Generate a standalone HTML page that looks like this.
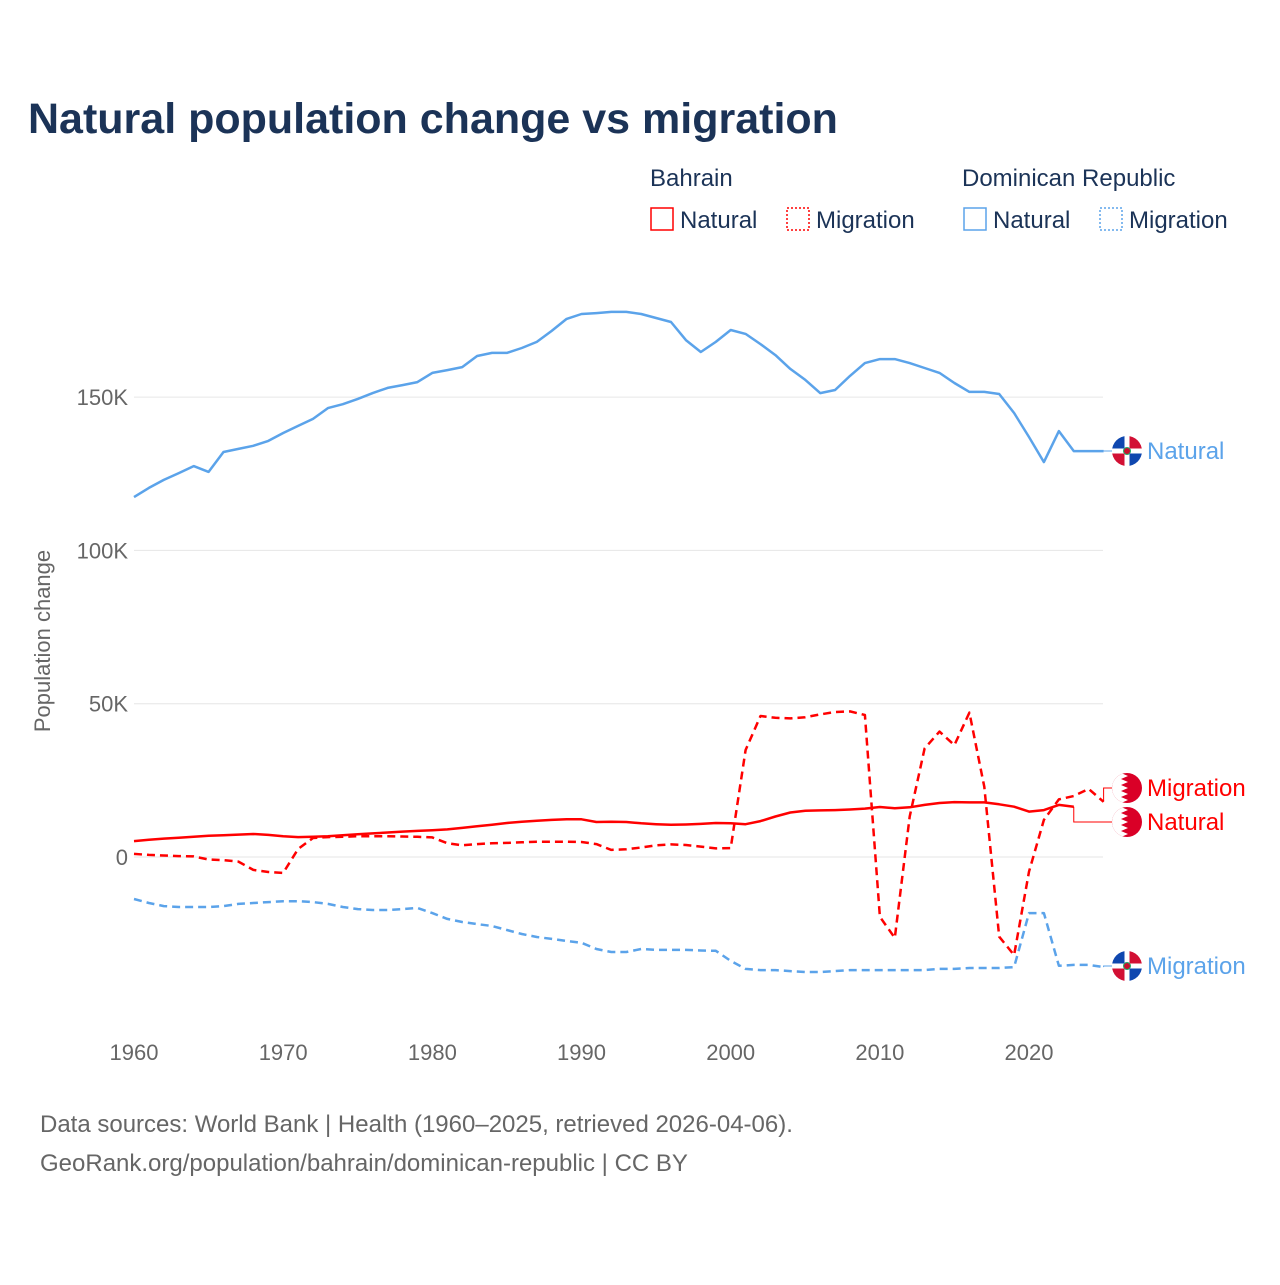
<!DOCTYPE html>
<html><head><meta charset="utf-8">
<style>
html,body{margin:0;padding:0;background:#fff;}
body{width:1280px;height:1280px;overflow:hidden;font-family:"Liberation Sans",sans-serif;}
svg text{font-family:"Liberation Sans",sans-serif;}
</style></head>
<body>
<svg id="chart" width="1280" height="1280" viewBox="0 0 1280 1280" xmlns="http://www.w3.org/2000/svg">
  <text x="28" y="133" font-size="43" font-weight="bold" fill="#1b3357">Natural population change vs migration</text>
  <g>
    <text x="650" y="186" font-size="24" fill="#1b3357">Bahrain</text>
    <text x="962" y="186" font-size="24" fill="#1b3357">Dominican Republic</text>
    <g>
      <rect x="651" y="208" width="22" height="22" fill="none" stroke="#ff0000" stroke-width="1.5"/>
      <text x="680" y="228" font-size="24" fill="#1b3357">Natural</text>
    </g>
    <g>
      <rect x="787" y="208" width="22" height="22" fill="none" stroke="#ff0000" stroke-width="1.5" stroke-dasharray="2,2"/>
      <text x="816" y="228" font-size="24" fill="#1b3357">Migration</text>
    </g>
    <g>
      <rect x="964" y="208" width="22" height="22" fill="none" stroke="#5ba3ea" stroke-width="1.5"/>
      <text x="993" y="228" font-size="24" fill="#1b3357">Natural</text>
    </g>
    <g>
      <rect x="1100" y="208" width="22" height="22" fill="none" stroke="#5ba3ea" stroke-width="1.5" stroke-dasharray="2,2"/>
      <text x="1129" y="228" font-size="24" fill="#1b3357">Migration</text>
    </g>
  </g>
  <text transform="translate(50,641) rotate(-90)" text-anchor="middle" font-size="22" fill="#666">Population change</text>
  <g id="grid"></g>
  <g id="yticks"></g>
  <g id="xticks"></g>
  <g id="series"></g>
  <g id="labels"></g>
  <text x="40" y="1132" font-size="24" fill="#666">Data sources: World Bank | Health (1960–2025, retrieved 2026-04-06).</text>
  <text x="40" y="1171" font-size="24" fill="#666">GeoRank.org/population/bahrain/dominican-republic | CC BY</text>
</svg>
<script>
const startYear = 1960;
const yTickValues = [0, 50, 100, 150];
const yTickLabels = ["0", "50K", "100K", "150K"];
const xTickValues = [1960, 1970, 1980, 1990, 2000, 2010, 2020];
const drNatural = [117.4,120.4,123.0,125.2,127.5,125.6,132.1,133.1,134.1,135.7,
138.3,140.6,142.9,146.4,147.7,149.4,151.3,153.0,153.9,154.9,
157.9,158.8,159.8,163.4,164.4,164.4,166.0,168.0,171.6,175.5,
177.1,177.4,177.8,177.8,177.1,175.8,174.5,168.6,164.7,168.0,
171.9,170.6,167.3,163.7,159.2,155.6,151.3,152.3,156.9,161.1,
162.4,162.4,161.1,159.5,157.9,154.6,151.7,151.7,151.0,144.8,
137.0,128.8,138.9,132.4,132.4,132.4];
const drMigration = [-13.7,-15.0,-16.0,-16.3,-16.3,-16.3,-16.0,-15.3,-15.0,-14.7,
-14.4,-14.4,-14.7,-15.3,-16.3,-17.0,-17.3,-17.3,-17.0,-16.6,
-18.3,-20.2,-21.2,-21.9,-22.5,-23.8,-25.1,-26.1,-26.7,-27.4,
-28.0,-30.0,-31.0,-31.0,-30.0,-30.3,-30.3,-30.3,-30.5,-30.6,
-33.9,-36.5,-36.9,-36.9,-37.2,-37.5,-37.5,-37.2,-36.9,-36.9,
-36.9,-36.9,-36.9,-36.9,-36.5,-36.5,-36.2,-36.2,-36.2,-35.9,
-18.3,-18.3,-35.5,-35.2,-35.2,-35.9];
const bhNatural = [5.2,5.6,6.0,6.3,6.6,6.9,7.1,7.3,7.5,7.2,
6.8,6.5,6.6,6.8,7.1,7.4,7.7,8.0,8.3,8.5,
8.7,9.0,9.5,10.0,10.5,11.1,11.5,11.8,12.1,12.3,
12.3,11.4,11.5,11.4,11.0,10.7,10.5,10.6,10.8,11.1,
11.0,10.7,11.7,13.2,14.5,15.1,15.2,15.3,15.5,15.8,
16.3,15.9,16.2,17.0,17.6,17.9,17.8,17.8,17.2,16.4,
14.8,15.3,17.0,16.4];
const bhMigration = [1.0,0.7,0.5,0.3,0.2,-0.8,-1.0,-1.5,-4.2,-4.9,
-5.2,2.6,6.2,6.5,6.6,6.8,6.8,6.8,6.7,6.6,
6.4,4.5,3.8,4.2,4.5,4.6,4.8,5.0,5.0,5.0,
4.9,4.2,2.3,2.5,3.1,3.8,4.1,3.9,3.4,2.8,
2.9,34.9,46.0,45.4,45.2,45.6,46.5,47.3,47.5,46.3,
-19.5,-26.4,13.2,35.4,40.9,36.5,47.1,22.9,-26.0,-32.0,
-4.8,12.1,18.8,19.9,22.2,18.0];

const X0 = 134, XSTEP = 14.917, Y0 = 857, YK = 3.066;
function xs(year){ return X0 + (year - 1960) * XSTEP; }
function ys(v){ return Y0 - v * YK; }
const NS = "http://www.w3.org/2000/svg";
function mk(tag, attrs, parent){ const e = document.createElementNS(NS, tag); for (const k in attrs) e.setAttribute(k, attrs[k]); parent.appendChild(e); return e; }

const grid = document.getElementById('grid');
const yt = document.getElementById('yticks');
yTickValues.forEach((v, i) => {
  const l = mk('line', {x1: X0, x2: 1103, y1: ys(v), y2: ys(v), stroke: '#e6e6e6', 'stroke-width': 1}, grid);
  
  
  const t = mk('text', {x: 128, y: ys(v) + 8, 'text-anchor': 'end', 'font-size': 22, fill: '#666'}, yt);
  t.textContent = yTickLabels[i];
  
  
});
const xt = document.getElementById('xticks');
xTickValues.forEach(yr => {
  const t = mk('text', {x: xs(yr), y: 1060, 'text-anchor': 'middle', 'font-size': 22, fill: '#666'}, xt);
  t.textContent = String(yr);
  
  
});

const series = document.getElementById('series');
function drawLine(arr, color, dash, name){
  const pts = arr.map((v, i) => xs(startYear + i).toFixed(1) + ',' + ys(v).toFixed(1)).join(' ');
  const p = mk('polyline', {points: pts, fill: 'none', stroke: color, 'stroke-width': 2.5, 'stroke-linejoin': 'round'}, series);
  if (dash) p.setAttribute('stroke-dasharray', '8,5');
  
  
  return p;
}
drawLine(drNatural, '#5ba3ea', false, 'line-dr-natural');
drawLine(drMigration, '#5ba3ea', true, 'line-dr-migration');
drawLine(bhNatural, '#ff0000', false, 'line-bahrain-natural');
drawLine(bhMigration, '#ff0000', true, 'line-bahrain-migration');

const labels = document.getElementById('labels');
function flagDR(cx, cy, g){
  const r = 15;
  mk('circle', {cx, cy, r, fill: '#fff'}, g);
  mk('path', {d:`M${cx} ${cy} L${cx-r} ${cy} A${r} ${r} 0 0 1 ${cx} ${cy-r} Z`, fill:'#0f47af'}, g);
  mk('path', {d:`M${cx} ${cy} L${cx} ${cy-r} A${r} ${r} 0 0 1 ${cx+r} ${cy} Z`, fill:'#d21034'}, g);
  mk('path', {d:`M${cx} ${cy} L${cx+r} ${cy} A${r} ${r} 0 0 1 ${cx} ${cy+r} Z`, fill:'#0f47af'}, g);
  mk('path', {d:`M${cx} ${cy} L${cx} ${cy+r} A${r} ${r} 0 0 1 ${cx-r} ${cy} Z`, fill:'#d21034'}, g);
  mk('rect', {x: cx-r, y: cy-2.5, width: 2*r, height: 5, fill:'#fff'}, g);
  mk('rect', {x: cx-2.5, y: cy-r, width: 5, height: 2*r, fill:'#fff'}, g);
  mk('circle', {cx, cy, r: 3.5, fill:'#c8102e', stroke:'#2a6', 'stroke-width':1}, g);
}
function flagBH(cx, cy, g){
  const r = 15;
  mk('circle', {cx, cy, r, fill: '#da0027'}, g);
  let d = `M${cx-r} ${cy-r} L${cx-6} ${cy-r}`;
  for (let i = 0; i < 5; i++){ const y1 = cy - r + i*6; d += ` L${cx+1} ${y1+3} L${cx-6} ${y1+6}`; }
  d += ` L${cx-r} ${cy+r} Z`;
  const clip = 'c' + Math.round(cy);
  const cp = mk('clipPath', {id: clip}, g); mk('circle', {cx, cy, r}, cp);
  mk('path', {d, fill:'#fff', 'clip-path': `url(#${clip})`}, g);
}
function endLabel(lastVal, lastYear, labelY, text, color, flag, name){
  const g = mk('g', {}, labels);
  
  
  const x1 = xs(lastYear), y1 = ys(lastVal);
  mk('polyline', {points: `${x1},${y1} ${x1},${labelY} 1112,${labelY}`, fill:'none', stroke: color, 'stroke-width': 1}, g);
  flag(1127, labelY, g);
  const t = mk('text', {x: 1147, y: labelY + 8, 'font-size': 24, fill: color}, g);
  t.textContent = text;
}
endLabel(drNatural[drNatural.length-1], startYear + drNatural.length - 1, 451, 'Natural', '#5ba3ea', flagDR, 'label-dr-natural');
endLabel(drMigration[drMigration.length-1], startYear + drMigration.length - 1, 966, 'Migration', '#5ba3ea', flagDR, 'label-dr-migration');
endLabel(bhMigration[bhMigration.length-1], startYear + bhMigration.length - 1, 788, 'Migration', '#ff0000', flagBH, 'label-bahrain-migration');
endLabel(bhNatural[bhNatural.length-1], startYear + bhNatural.length - 1, 822, 'Natural', '#ff0000', flagBH, 'label-bahrain-natural');
</script>
</body></html>
